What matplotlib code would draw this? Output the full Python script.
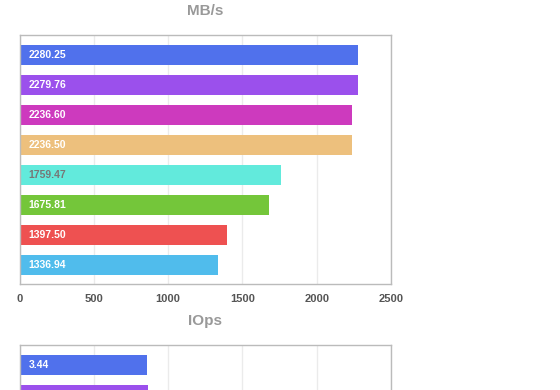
import matplotlib.pyplot as plt

# MB/s chart data (top to bottom)
mbs_values = [2280.25, 2279.76, 2236.60, 2236.50, 1759.47, 1675.81, 1397.50, 1336.94]
# IOps chart data (only the first bars are visible in the frame)
iops_values = [3.44, 3.47]

bar_colors = ["#5071EC", "#9B50EC", "#CD3ABE", "#EDC07D", "#62EADC", "#74C63A", "#EE5151", "#50BCEC"]
label_colors = ["white", "white", "white", "white", "#777777", "white", "white", "white"]

plt.rcParams["font.family"] = ["Liberation Sans", "DejaVu Sans"]

fig = plt.figure(figsize=(5.6, 3.9), dpi=100, facecolor="white")

W, H = 560.0, 390.0
left = 19.5 / W
width = (391 - 19.5) / W
ax_h = 249 / H


def draw_panel(ax, values, xmax, fmt):
    ypos = list(range(len(values)))
    ax.barh(ypos, values, height=0.667, color=bar_colors[:len(values)], zorder=2)
    for i, v in enumerate(values):
        ax.text(xmax * 0.025, i, fmt.format(v), ha="left", va="center",
                fontsize=7.5, fontweight="bold", color=label_colors[i], zorder=3)
    ax.set_xlim(0, xmax)
    ax.set_ylim(7.65, -0.667)
    ax.set_xticks([xmax * k / 5 for k in range(6)])
    ax.set_yticks([])
    ax.grid(axis="x", color="#ebebeb", linewidth=1, zorder=0)
    for s in ax.spines.values():
        s.set_color("#bbbbbb")
        s.set_linewidth(1)
    ax.tick_params(axis="x", length=0, pad=7, labelsize=8, labelcolor="#555555")
    for lab in ax.get_xticklabels():
        lab.set_fontweight("bold")


ax1 = fig.add_axes([left, 1 - 284 / H, width, ax_h])
draw_panel(ax1, mbs_values, 2500, "{:.2f}")

ax2 = fig.add_axes([left, 1 - (345.3 + 249) / H, width, ax_h])
draw_panel(ax2, iops_values, 10, "{:.2f}")
ax2.set_xticklabels([])

cx = (19.5 + 391) / 2 / W
fig.text(cx, 1 - 11 / H, "MB/s", ha="center", va="center", fontsize=11,
         fontweight="bold", color="#999999")
fig.text(cx, 1 - 321 / H, "IOps", ha="center", va="center", fontsize=11,
         fontweight="bold", color="#999999")

fig.savefig("out.png", dpi=100, facecolor="white")
